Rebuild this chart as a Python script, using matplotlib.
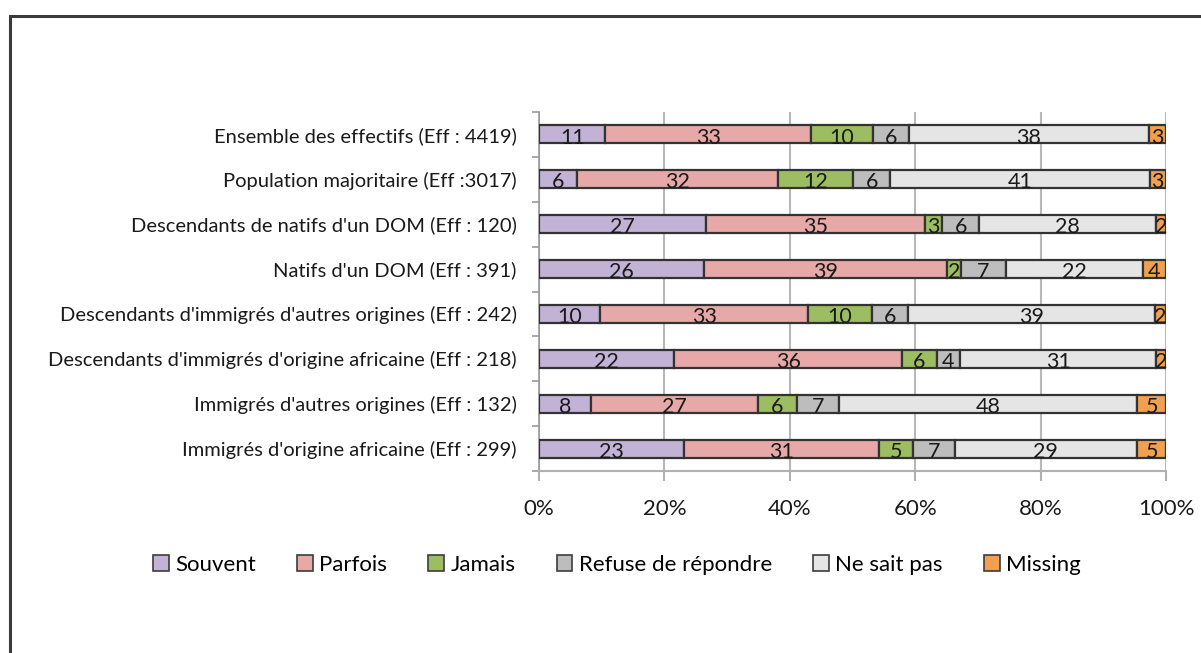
import matplotlib
matplotlib.use("Agg")
import matplotlib.pyplot as plt
from matplotlib.patches import Rectangle, Patch
import numpy as np

categories = [
    "Ensemble des effectifs (Eff : 4419)",
    "Population majoritaire (Eff :3017)",
    "Descendants de natifs d'un DOM (Eff : 120)",
    "Natifs d'un DOM (Eff : 391)",
    "Descendants d'immigrés d'autres origines (Eff : 242)",
    "Descendants d'immigrés d'origine africaine (Eff : 218)",
    "Immigrés d'autres origines (Eff : 132)",
    "Immigrés d'origine africaine (Eff : 299)",
]
series = ["Souvent", "Parfois", "Jamais", "Refuse de répondre", "Ne sait pas", "Missing"]

souvent = [10.6, 6.1, 26.6, 26.3, 9.8, 21.6, 8.3, 23.1]
parfois = [32.8, 32.0, 35.0, 38.8, 33.1, 36.3, 26.6, 31.1]
jamais = [9.9, 12.0, 2.7, 2.2, 10.2, 5.5, 6.2, 5.4]
refuse = [5.7, 5.9, 5.9, 7.2, 5.8, 3.8, 6.7, 6.7]
ne_sait_pas = [38.3, 41.4, 28.2, 21.8, 39.4, 31.2, 47.6, 29.1]
missing = [2.7, 2.6, 1.6, 3.7, 1.7, 1.6, 4.6, 4.6]

labels_souvent = [11, 6, 27, 26, 10, 22, 8, 23]
labels_parfois = [33, 32, 35, 39, 33, 36, 27, 31]
labels_jamais = [10, 12, 3, 2, 10, 6, 6, 5]
labels_refuse = [6, 6, 6, 7, 6, 4, 7, 7]
labels_nsp = [38, 41, 28, 22, 39, 31, 48, 29]
labels_missing = [3, 3, 2, 4, 2, 2, 5, 5]

xticks = [0, 20, 40, 60, 80, 100]
xtick_labels = ["0%", "20%", "40%", "60%", "80%", "100%"]

colors = ["#C2B3D6", "#E6A9A7", "#9DBD62", "#BDBDBD", "#E5E5E5", "#F0A050"]

plt.rcParams['font.family'] = ['Lato', 'DejaVu Sans']

fig = plt.figure(figsize=(12.01, 6.53), dpi=100)
fig.patch.set_facecolor("white")

# outer frame (cut at right/bottom)
fig.add_artist(Rectangle((9.5 / 1201, -0.1), 1.2, (653 - 16) / 653 + 0.1,
                         transform=fig.transFigure, fill=False,
                         edgecolor="#3a3a3a", linewidth=2.2))

ax = fig.add_axes([539 / 1201, 1 - 471 / 653, (1166 - 539) / 1201, (471 - 112) / 653])

data = [souvent, parfois, jamais, refuse, ne_sait_pas, missing]
labs = [labels_souvent, labels_parfois, labels_jamais, labels_refuse, labels_nsp, labels_missing]
n = len(categories)
y = np.arange(n)
left = np.zeros(n)
for vals, lab, col in zip(data, labs, colors):
    vals = np.array(vals)
    ax.barh(y, vals, left=left, height=0.4, color=col, edgecolor="#333333",
            linewidth=1.6, zorder=3)
    for i in range(n):
        ax.text(left[i] + vals[i] / 2, y[i] + 0.07, str(lab[i]), ha="center", va="center",
                fontsize=15.5, color="#1a1a1a", zorder=4)
    left += vals

ax.set_ylim(n - 0.5, -0.5)
ax.set_xlim(0, 100)
ax.set_yticks(y)
ax.set_yticklabels(categories, fontsize=14.5, color="#1a1a1a")
ax.set_yticks(np.arange(-0.5, n, 1), minor=True)
ax.tick_params(axis="y", which="major", length=0, pad=16)
ax.tick_params(axis="y", which="minor", length=5, color="#999999", width=1.2)
ax.set_xticks(xticks)
ax.set_xticklabels(xtick_labels, fontsize=16, color="#1a1a1a")
ax.tick_params(axis="x", length=7, color="#b0b0b0", width=1.5, pad=13)
ax.grid(axis="x", color="#b8b8b8", linewidth=1.5, zorder=0)
for s in ["top", "right"]:
    ax.spines[s].set_visible(False)
ax.spines["left"].set_color("#999999")
ax.spines["left"].set_linewidth(1.2)
ax.spines["bottom"].set_color("#b0b0b0")
ax.spines["bottom"].set_linewidth(1.5)

handles = [Patch(facecolor=c, edgecolor="#3c3c3c", linewidth=1.2) for c in colors]
fig.legend(handles, series, loc="center", bbox_to_anchor=(617 / 1201, 1 - 565 / 653),
           ncol=6, frameon=False, fontsize=16, handlelength=0.7, handleheight=0.7,
           handletextpad=0.3, columnspacing=1.85)

fig.savefig("out.png", dpi=100, facecolor="white")
